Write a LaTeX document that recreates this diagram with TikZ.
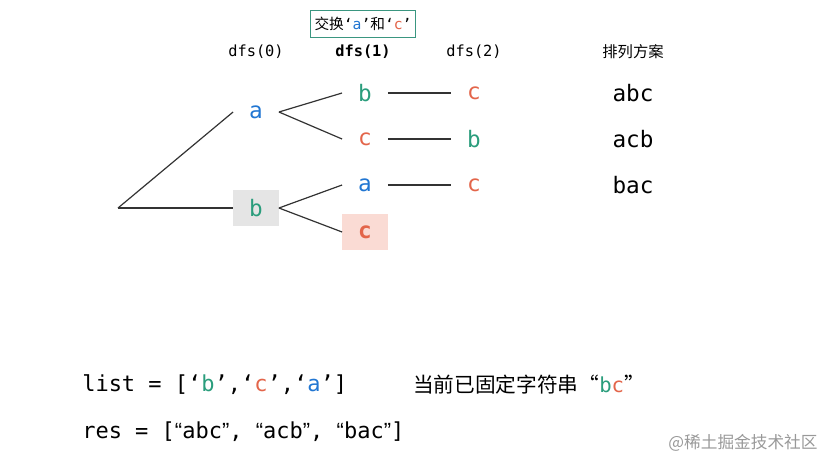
\documentclass[tikz,border=0pt]{standalone}
\usepackage{fontspec}
\newfontfamily\codefont{DejaVu Sans Mono}
\newfontfamily\cjkfont{Noto Sans CJK SC}
\newfontfamily\quotefont{Liberation Sans}
\newcommand{\openq}{{\quotefont “}}
\newcommand{\closeq}{{\quotefont ”}}
\usetikzlibrary{positioning, calc}
\definecolor{cblue}{HTML}{2176D2}
\definecolor{cgreen}{HTML}{2A9D7C}
\definecolor{cred}{HTML}{E3654A}
\definecolor{boxline}{HTML}{3A9680}
\definecolor{boxgray}{HTML}{E5E5E5}
\definecolor{boxpink}{HTML}{FADBD4}
\begin{document}
\begin{tikzpicture}[
    x=0.75pt, y=-0.75pt,
    letter/.style={minimum width=34pt, minimum height=27pt, inner sep=0pt, font=\codefont\fontsize{17}{20}\selectfont},
    head/.style={font=\codefont\fontsize{11.5}{14}\selectfont},
    result/.style={font=\codefont\fontsize{17}{20}\selectfont},
    code/.style={anchor=west, inner sep=0pt, font=\codefont\fontsize{16.5}{20}\selectfont},
    edge/.style={draw, line width=0.9pt, black!80}
]
\useasboundingbox (0,0) rectangle (838,468);
\node[draw=boxline, line width=1pt, fill=white, inner xsep=3pt, minimum height=20pt, font=\cjkfont\fontsize{11}{13}\selectfont] (Swap) at (363, 24) {交换{\codefont‘\color{cblue}a\color{black}’}和{\codefont‘\color{cred}c\color{black}’}};
\node[head] (Dfs0) at (256, 52) {dfs(0)};
\node[head, font=\codefont\bfseries\fontsize{11.5}{14}\selectfont] (Dfs1) at (363, 52) {dfs(1)};
\node[head] (Dfs2) at (474, 52) {dfs(2)};
\node[font=\cjkfont\fontsize{11.5}{13}\selectfont] (Plan) at (633, 52) {排列方案};
\coordinate (Root) at (118, 208);
\node[letter, text=cblue] (A) at (256, 112) {a};
\node[letter, text=cgreen, fill=boxgray] (B) at (256, 208) {b};
\node[letter, text=cgreen] (AB) at (365, 93) {b};
\node[letter, text=cred] (AC) at (365, 139) {c};
\node[letter, text=cblue] (BA) at (365, 185) {a};
\node[letter, text=cred, fill=boxpink, font=\codefont\bfseries\fontsize{17}{20}\selectfont] (BC) at (365, 232) {c};
\node[letter, text=cred] (ABC) at (474, 93) {c};
\node[letter, text=cgreen] (ACB) at (474, 139) {b};
\node[letter, text=cred] (BAC) at (474, 185) {c};
\node[result] (ResABC) at (633, 93) {abc};
\node[result] (ResACB) at (633, 139) {acb};
\node[result] (ResBAC) at (633, 185) {bac};
\node[code] (List) at (82, 385) {list = [‘{\color{cgreen}b}’,‘{\color{cred}c}’,‘{\color{cblue}a}’]};
\node[code, font=\cjkfont\fontsize{15.5}{18}\selectfont] (Fixed) at (413, 385) {当前已固定字符串“{\codefont\color{cgreen}b\color{cred}c}”};
\node[code] (Res) at (82, 432) {res = [\openq abc\closeq, \openq acb\closeq, \openq bac\closeq]};
\node[font=\cjkfont\fontsize{12.5}{15}\selectfont, text=black!40] (Mark) at (743, 443) {@稀土掘金技术社区};
\draw[edge] (Root) -- (A.west);
\draw[edge] (Root) -- (B.west);
\draw[edge] (A.east) -- (AB.west);
\draw[edge] (A.east) -- (AC.west);
\draw[edge] (B.east) -- (BA.west);
\draw[edge] (B.east) -- (BC.west);
\draw[edge] (AB.east) -- (ABC.west);
\draw[edge] (AC.east) -- (ACB.west);
\draw[edge] (BA.east) -- (BAC.west);
\end{tikzpicture}
\end{document}
